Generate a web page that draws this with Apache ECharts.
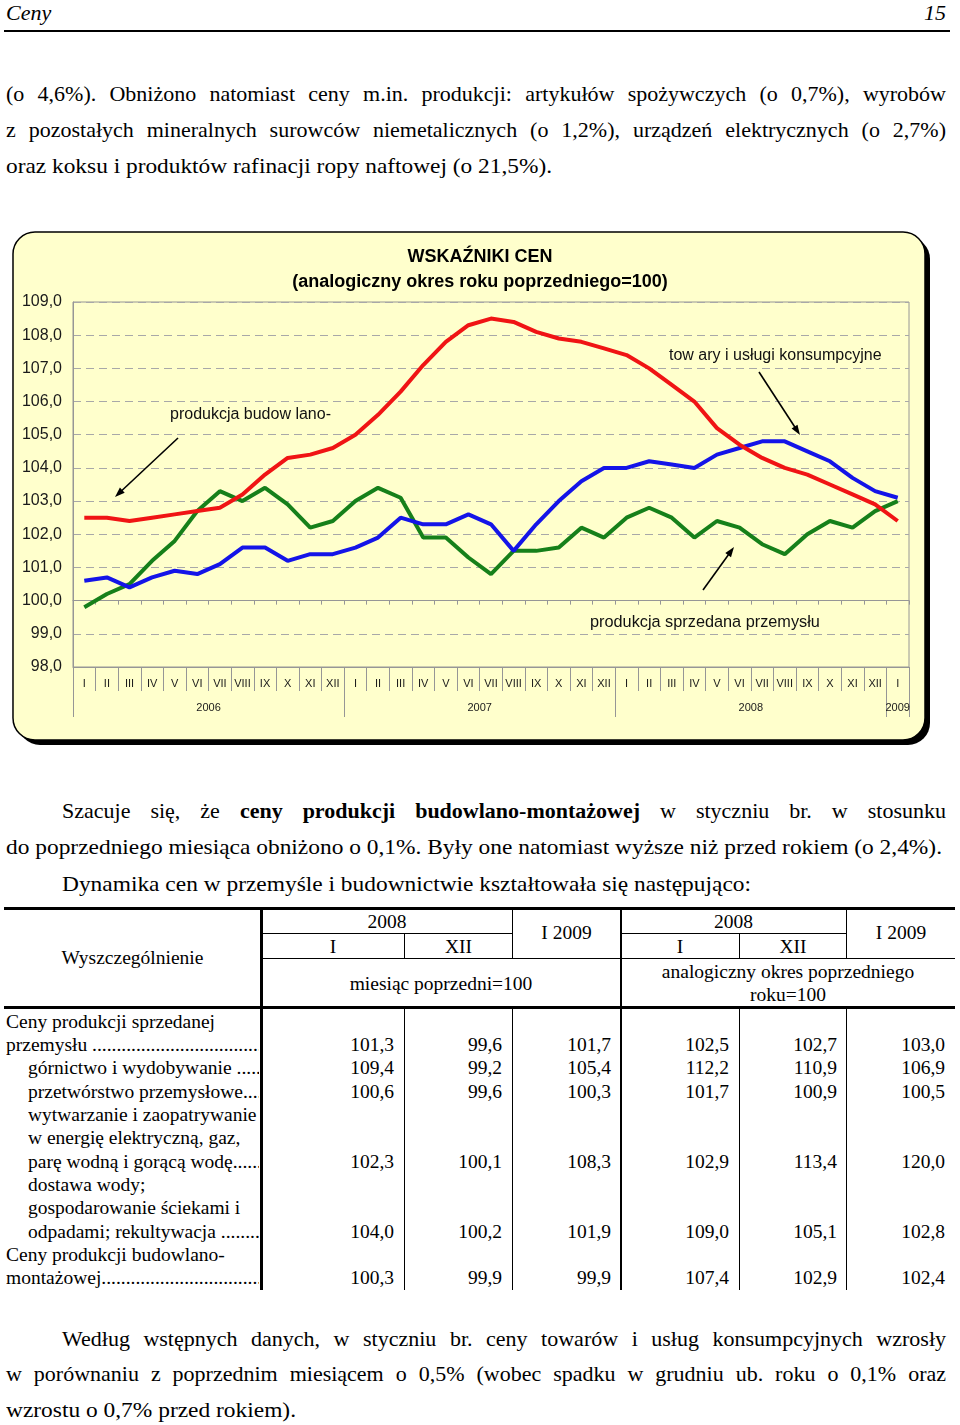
<!DOCTYPE html>
<html><head><meta charset="utf-8">
<script src="https://cdn.jsdelivr.net/npm/echarts@6/dist/echarts.min.js"></script>
<style>
html,body{margin:0;padding:0;background:#fff;}
#page{position:relative;width:960px;height:1425px;overflow:hidden;font-family:'Liberation Serif','Times New Roman',serif;color:#000;}
.ln{position:absolute;white-space:nowrap;transform-origin:0 50%;}
.hl{position:absolute;background:#000;}
.cell{position:absolute;display:flex;align-items:center;justify-content:center;text-align:center;font-size:19.5px;line-height:23px;}
.lab{position:absolute;white-space:nowrap;overflow:hidden;font-size:19.5px;height:23px;line-height:23px;}
.val{position:absolute;width:100px;text-align:right;font-size:19.5px;height:23px;line-height:23px;}
</style></head><body>
<div id="page"><div id="chart" style="position:absolute;left:0;top:220px;width:960px;height:540px;"></div></div>
<script>
// ---------------- chart data ----------------
const months = ['I','II','III','IV','V','VI','VII','VIII','IX','X','XI','XII',
                'I','II','III','IV','V','VI','VII','VIII','IX','X','XI','XII',
                'I','II','III','IV','V','VI','VII','VIII','IX','X','XI','XII',
                'I'];
const years = ['2006','2007','2008','2009'];
const consumerGoods = [100.6,100.7,100.4,100.7,100.9,100.8,101.1,101.6,101.6,101.2,101.4,101.4,
                       101.6,101.9,102.5,102.3,102.3,102.6,102.3,101.5,102.3,103.0,103.6,104.0,
                       104.0,104.2,104.1,104.0,104.4,104.6,104.8,104.8,104.5,104.2,103.7,103.3,
                       103.1];
const industrySold = [99.8,100.2,100.5,101.2,101.8,102.7,103.3,103.0,103.4,102.9,102.2,102.4,
                      103.0,103.4,103.1,101.9,101.9,101.3,100.8,101.5,101.5,101.6,102.2,101.9,
                      102.5,102.8,102.5,101.9,102.4,102.2,101.7,101.4,102.0,102.4,102.2,102.7,
                      103.0];
const construction = [102.5,102.5,102.4,102.5,102.6,102.7,102.8,103.2,103.8,104.3,104.4,104.6,
                      105.0,105.6,106.3,107.1,107.8,108.3,108.5,108.4,108.1,107.9,107.8,107.6,
                      107.4,107.0,106.5,106.0,105.2,104.7,104.3,104.0,103.8,103.5,103.2,102.9,
                      102.4];
const yMin = 98, yMax = 109, yStep = 1, yCross = 100;
const chartTitle = 'WSKAŹNIKI CEN';
const chartSubtitle = '(analogiczny okres roku poprzedniego=100)';
const labelConsumer = 'tow ary i usługi konsumpcyjne';
const labelIndustry = 'produkcja sprzedana przemysłu';
const labelConstruction = 'produkcja budow lano-';

// ---------------- table data ----------------
const colBounds = [262, 404, 512, 621, 739, 847, 955];
const ppiTotal      = [101.3, 99.6, 101.7, 102.5, 102.7, 103.0];
const mining        = [109.4, 99.2, 105.4, 112.2, 110.9, 106.9];
const manufacturing = [100.6, 99.6, 100.3, 101.7, 100.9, 100.5];
const energy        = [102.3, 100.1, 108.3, 102.9, 113.4, 120.0];
const water         = [104.0, 100.2, 101.9, 109.0, 105.1, 102.8];
const constrTable   = [100.3, 99.9, 99.9, 107.4, 102.9, 102.4];

const page = document.getElementById('page');
const SANS = "'Liberation Sans',Arial,sans-serif";

function placeLine(html, x1, x2, cy, mode, fs, extra){
  const d = document.createElement('div');
  d.className = 'ln';
  const lh = fs*1.2;
  d.style.cssText += `left:${x1}px;top:${cy-lh/2}px;height:${lh}px;line-height:${lh}px;font-size:${fs}px;` + (extra||'');
  d.innerHTML = html;
  page.appendChild(d);
  const w = d.getBoundingClientRect().width;
  const W = x2 - x1;
  if (mode === 'j') {
    const n = (d.textContent.match(/ /g)||[]).length;
    if (n) d.style.wordSpacing = ((W - w)/n) + 'px';
  } else if (mode === 'f') {
    d.style.transform = `scaleX(${W/w})`;
  } else if (mode === 'r') {
    d.style.left = (x2 - w) + 'px';
  }
}
function hline(x, y, w, h){
  const d = document.createElement('div'); d.className='hl';
  d.style.cssText += `left:${x}px;top:${y}px;width:${w}px;height:${h}px;`;
  page.appendChild(d);
}
function cell(html, x, y, w, h){
  const d = document.createElement('div'); d.className='cell';
  d.style.cssText += `left:${x}px;top:${y}px;width:${w}px;height:${h}px;`;
  d.innerHTML = html; page.appendChild(d);
}
const fmt = v => v.toFixed(1).replace('.', ',');

// header
placeLine('Ceny', 6, 60, 13, '', 22, 'font-style:italic;');
placeLine('15', 900, 946, 13, 'r', 22, 'font-style:italic;');
hline(4, 30, 946, 2);

const PF = 22;
// paragraph 1
placeLine('(o 4,6%). Obniżono natomiast ceny m.in. produkcji: artykułów spożywczych (o 0,7%), wyrobów', 6, 946, 94, 'j', PF);
placeLine('z pozostałych mineralnych surowców niemetalicznych (o 1,2%), urządzeń elektrycznych (o 2,7%)', 6, 946, 130, 'j', PF);
placeLine('oraz koksu i produktów rafinacji ropy naftowej (o 21,5%).', 6, 552, 166, 'f', PF);

// paragraph 2
placeLine('Szacuje się, że <b>ceny produkcji budowlano-montażowej</b> w styczniu br. w stosunku', 62, 946, 811, 'j', PF);
placeLine('do poprzedniego miesiąca obniżono o 0,1%. Były one natomiast wyższe niż przed rokiem (o 2,4%).', 6, 942, 847, 'f', PF);
placeLine('Dynamika cen w przemyśle i budownictwie kształtowała się następująco:', 62, 751, 884, 'f', PF);

// paragraph 3
placeLine('Według wstępnych danych, w styczniu br. ceny towarów i usług konsumpcyjnych wzrosły', 62, 946, 1339, 'j', PF);
placeLine('w porównaniu z poprzednim miesiącem o 0,5% (wobec spadku w grudniu ub. roku o 0,1% oraz', 6, 946, 1374, 'j', PF);
placeLine('wzrostu o 0,7% przed rokiem).', 6, 296, 1410, 'f', PF);

// ---------------- table ----------------
hline(4, 907, 951, 3);
hline(4, 1006, 951, 3);
hline(262, 933, 250, 1);
hline(621, 933, 226, 1);
hline(262, 958, 693, 1);
hline(260, 907, 3, 383);
hline(620, 907, 1.6, 383);
hline(512, 907, 1.3, 52);
hline(846, 907, 1.3, 52);
hline(404, 933, 1.3, 26);
hline(739, 933, 1.3, 26);
[404, 512, 739, 846].forEach(x => hline(x, 1008, 1.3, 282));

cell('Wyszczególnienie', 4, 909, 257, 97);
cell('2008', 262, 909, 250, 24);
cell('I 2009', 513, 909, 107, 47);
cell('2008', 621, 909, 225, 24);
cell('I 2009', 847, 909, 108, 47);
cell('I', 262, 934, 142, 24);
cell('XII', 405, 934, 107, 24);
cell('I', 621, 934, 118, 24);
cell('XII', 740, 934, 106, 24);
cell('miesiąc poprzedni=100', 262, 960, 358, 46);
cell('analogiczny okres poprzedniego<br>roku=100', 621, 960, 334, 46);

const tableLines = [
  {t:'Ceny produkcji sprzedanej', x:6},
  {t:'przemysłu ', x:6, lead:true, v:ppiTotal},
  {t:'górnictwo i wydobywanie ', x:28, lead:true, v:mining},
  {t:'przetwórstwo przemysłowe', x:28, lead:true, v:manufacturing},
  {t:'wytwarzanie i zaopatrywanie', x:28},
  {t:'w energię elektryczną, gaz,', x:28},
  {t:'parę wodną i gorącą wodę', x:28, lead:true, v:energy},
  {t:'dostawa wody;', x:28},
  {t:'gospodarowanie ściekami i', x:28},
  {t:'odpadami; rekultywacja ', x:28, lead:true, v:water},
  {t:'Ceny produkcji budowlano-', x:6},
  {t:'montażowej', x:6, lead:true, v:constrTable}
];
tableLines.forEach((r, i) => {
  const cy = 1021 + i*23.36;
  const d = document.createElement('div'); d.className='lab';
  d.style.cssText += `left:${r.x}px;top:${cy-11.5}px;width:${259-r.x}px;`;
  d.textContent = r.t + (r.lead ? '.'.repeat(120) : '');
  page.appendChild(d);
  if (r.v) r.v.forEach((v, k) => {
    const e = document.createElement('div'); e.className='val';
    e.style.cssText += `left:${colBounds[k+1]-110}px;top:${cy-11.5}px;`;
    e.textContent = fmt(v); page.appendChild(e);
  });
});

// ---------------- chart ----------------
const chart = echarts.init(document.getElementById('chart'), null, {renderer:'canvas'});
const GRID = {left:73, right:51, top:82, bottom:93};
const plotH = 540 - GRID.top - GRID.bottom;
const crossOffset = -plotH * (yCross - yMin) / (yMax - yMin);

const yearStarts = months.map((m,i)=> m==='I' ? i : -1).filter(i=>i>=0);
const yearBounds = yearStarts.concat([months.length]);
const yearCenters = yearStarts.map((s,k)=> (s + yearBounds[k+1]) / 2);

function arrow(x1,y1,x2,y2){
  const dx=x2-x1, dy=y2-y1, L=Math.hypot(dx,dy), ux=dx/L, uy=dy/L;
  const hl=10, hw=3.5, bx=x2-ux*hl, by=y2-uy*hl;
  return [
    {type:'line', z:100, shape:{x1:x1,y1:y1,x2:bx+ux*2,y2:by+uy*2}, style:{stroke:'#000', lineWidth:1.6}},
    {type:'polygon', z:100, shape:{points:[[x2,y2],[bx-uy*hw,by+ux*hw],[bx+uy*hw,by-ux*hw]]}, style:{fill:'#000'}}
  ];
}
const gray = '#969696';
const option = {
  animation:false,
  title:{text: chartTitle + '\n' + chartSubtitle, left:'center', top:25, padding:0,
    textStyle:{fontSize:18, fontWeight:'bold', fontFamily:SANS, color:'#000', lineHeight:25}},
  graphic:[
    {type:'rect', z:-101, shape:{x:18, y:17, width:912, height:508, r:22}, style:{fill:'#000'}},
    {type:'rect', z:-100, shape:{x:13, y:12, width:912, height:508, r:22}, style:{fill:'#ffffcc', stroke:'#000', lineWidth:1.5}},
    {type:'text', z:100, x:170, y:195, style:{text:labelConstruction, fontSize:16, fontFamily:SANS, fill:'#111', verticalAlign:'middle', align:'left'}},
    {type:'text', z:100, x:669, y:136, style:{text:labelConsumer, fontSize:16, fontFamily:SANS, fill:'#111', verticalAlign:'middle', align:'left'}},
    {type:'text', z:100, x:590, y:403, style:{text:labelIndustry, fontSize:16.3, fontFamily:SANS, fill:'#111', verticalAlign:'middle', align:'left'}}
  ].concat(arrow(178,218,115,277), arrow(759,152,800,215), arrow(703,370,734,327)),
  grid:Object.assign({show:true, borderColor:gray, borderWidth:1, backgroundColor:'transparent', outerBoundsMode:'none', containLabel:false}, GRID),
  xAxis:[
    {type:'category', data:months, position:'bottom', boundaryGap:true,
     axisLine:{show:true, onZero:false, lineStyle:{color:gray}},
     axisTick:{show:true, interval:0, length:24, lineStyle:{color:gray}},
     axisLabel:{interval:0, margin:11, fontSize:11, fontFamily:SANS, color:'#1a1a1a'},
     splitLine:{show:false}},
    {type:'value', min:0, max:months.length, position:'bottom',
     axisLine:{show:false, onZero:false},
     axisTick:{show:true, length:50, customValues:yearBounds, lineStyle:{color:gray}},
     axisLabel:{show:true, customValues:yearCenters, margin:35, fontSize:11, fontFamily:SANS, color:'#1a1a1a',
       formatter:(v)=>{ const k = yearCenters.indexOf(v); return k>=0 ? years[k] : ''; }},
     splitLine:{show:false}},
    {type:'category', data:months, position:'bottom', offset:crossOffset, boundaryGap:true,
     axisLine:{show:true, onZero:false, lineStyle:{color:gray}},
     axisTick:{show:true, interval:0, length:4, lineStyle:{color:gray}},
     axisLabel:{show:false}, splitLine:{show:false}}
  ],
  yAxis:{type:'value', min:yMin, max:yMax, interval:yStep,
    axisLine:{show:true, lineStyle:{color:gray}}, axisTick:{show:false},
    axisLabel:{formatter:fmt, margin:11, fontSize:16, fontFamily:SANS, color:'#1a1a1a'},
    splitLine:{show:true, lineStyle:{color:'#a8a8a8', type:[8,5], width:1}}},
  series:[
    {name:'produkcja sprzedana przemysłu', type:'line', data:industrySold, xAxisIndex:0, showSymbol:false, symbol:'none',
     lineStyle:{color:'#16801a', width:4}, z:3},
    {name:'towary i usługi konsumpcyjne', type:'line', data:consumerGoods, xAxisIndex:0, showSymbol:false, symbol:'none',
     lineStyle:{color:'#1414e8', width:4}, z:4},
    {name:'produkcja budowlano-montażowa', type:'line', data:construction, xAxisIndex:0, showSymbol:false, symbol:'none',
     lineStyle:{color:'#f01414', width:4}, z:5}
  ]
};
chart.setOption(option);
</script>
</body></html>
